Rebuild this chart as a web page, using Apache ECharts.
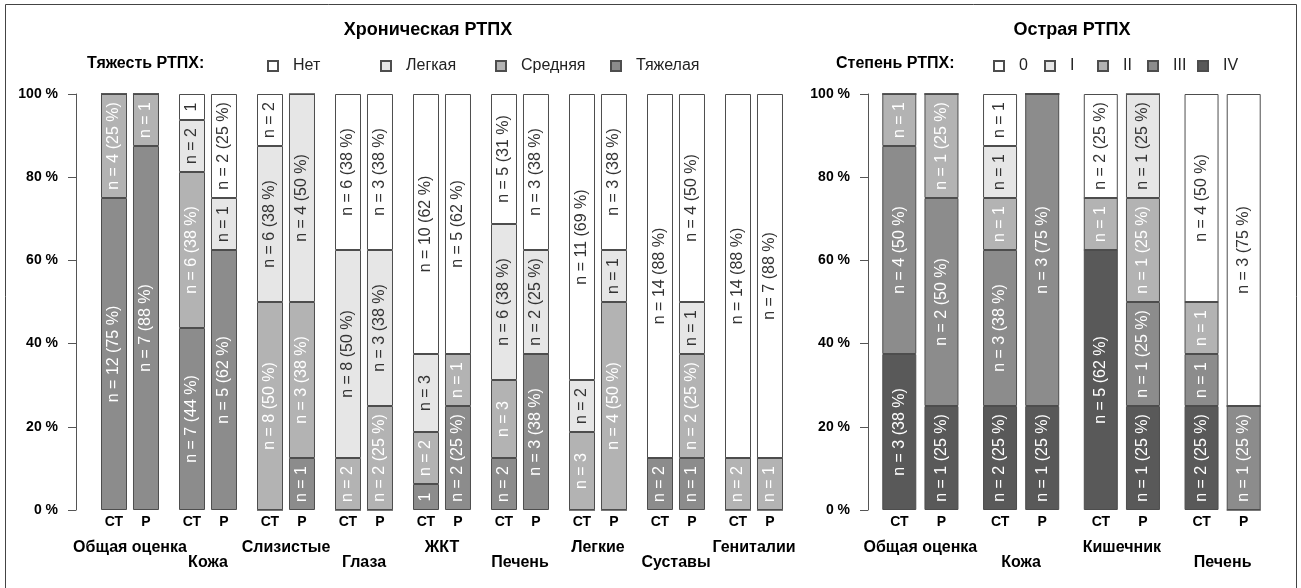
<!DOCTYPE html>
<html>
<head>
<meta charset="utf-8">
<script src="https://cdn.jsdelivr.net/npm/echarts@6/dist/echarts.min.js"></script>
<style>
  html, body { margin: 0; padding: 0; background: #fff; }
  #chart { width: 1301px; height: 588px; }
</style>
</head>
<body>
<div id="chart"></div>
<script>
// ---- data: counts of patients per category ----
const chronicGroups = ['Общая оценка', 'Кожа', 'Слизистые', 'Глаза', 'ЖКТ', 'Печень', 'Легкие', 'Суставы', 'Гениталии'];
const chronicLevels = ['Нет', 'Легкая', 'Средняя', 'Тяжелая'];

// СТ
const chrCtNone     = [0, 1, 2, 6, 10, 5, 11, 14, 14];
const chrCtMild     = [0, 2, 6, 8, 3, 6, 2, 0, 0];
const chrCtModerate = [4, 6, 8, 2, 2, 3, 3, 0, 2];
const chrCtSevere   = [12, 7, 0, 0, 1, 2, 0, 2, 0];
// Р
const chrRNone     = [0, 2, 0, 3, 5, 3, 3, 4, 7];
const chrRMild     = [0, 1, 4, 3, 0, 2, 1, 1, 0];
const chrRModerate = [1, 0, 3, 2, 1, 0, 4, 2, 1];
const chrRSevere   = [7, 5, 1, 0, 2, 3, 0, 1, 0];

const acuteGroups = ['Общая оценка', 'Кожа', 'Кишечник', 'Печень'];
const acuteLevels = ['0', 'I', 'II', 'III', 'IV'];

// СТ
const acuCt0 = [0, 1, 2, 4];
const acuCt1 = [0, 1, 0, 0];
const acuCt2 = [1, 1, 1, 1];
const acuCt3 = [4, 3, 0, 1];
const acuCt4 = [3, 2, 5, 2];
// Р
const acuR0 = [0, 0, 0, 3];
const acuR1 = [0, 0, 1, 0];
const acuR2 = [1, 0, 1, 0];
const acuR3 = [2, 3, 1, 1];
const acuR4 = [1, 1, 1, 0];

const subLabels = ['СТ', 'Р'];

// ---- styles ----
const chronicColors = ['#ffffff', '#e6e6e6', '#b3b3b3', '#8c8c8c'];
const chronicText   = ['#333333', '#333333', '#ffffff', '#ffffff'];
const acuteColors = ['#ffffff', '#e6e6e6', '#b3b3b3', '#8c8c8c', '#595959'];
const acuteText   = ['#333333', '#333333', '#ffffff', '#ffffff', '#ffffff'];
const FONT = '"Liberation Sans", Arial, sans-serif';

// R-style rounding (half to even)
function roundHalfEven(x) {
    const f = Math.floor(x);
    if (Math.abs(x - f - 0.5) < 1e-9) return f % 2 === 0 ? f : f + 1;
    return Math.round(x);
}

function labelText(n, total) {
    if (!n) return '';
    const share = n / total;
    if (share < 0.1) return String(n);
    if (share < 0.2) return 'n = ' + n;
    return 'n = ' + n + ' (' + roundHalfEven(share * 100) + ' %)';
}

function buildSeries(levels, ctRows, rRows, colors, textColors, axis, barWidth, barGap) {
    const out = [];
    [[ctRows, subLabels[0]], [rRows, subLabels[1]]].forEach(([rows, sub], s) => {
        const stack = 'g' + axis + '_' + s;
        const totals = rows[0].map((_, i) => rows.reduce((a, r) => a + r[i], 0));
        // invisible base bar carrying the СТ / Р label under the column
        out.push({
            type: 'bar', name: '_' + sub, stack, xAxisIndex: axis, yAxisIndex: axis,
            barWidth, barGap, silent: true,
            data: totals.map(() => 0),
            itemStyle: { color: 'transparent', borderWidth: 0 },
            label: {
                show: true, position: 'bottom', distance: 5, formatter: sub,
                fontFamily: FONT, fontSize: 14, fontWeight: 'bold', color: '#000'
            }
        });
        // stacked from the most severe (bottom) to none (top)
        for (let k = levels.length - 1; k >= 0; k--) {
            out.push({
                type: 'bar', name: levels[k], stack, xAxisIndex: axis, yAxisIndex: axis,
                barWidth, barGap,
                data: rows[k].map((n, i) => ({ value: n / totals[i] * 100, n: n, total: totals[i] })),
                itemStyle: { color: colors[k], borderColor: '#4d4d4d', borderWidth: 1 },
                label: {
                    show: true, position: 'inside', rotate: 90,
                    formatter: p => labelText(p.data.n, p.data.total),
                    fontFamily: FONT, fontSize: 16, color: textColors[k]
                }
            });
        }
    });
    return out;
}

const chronicSeries = buildSeries(chronicLevels,
    [chrCtNone, chrCtMild, chrCtModerate, chrCtSevere],
    [chrRNone, chrRMild, chrRModerate, chrRSevere],
    chronicColors, chronicText, 0, 26, '23%');
const acuteSeries = buildSeries(acuteLevels,
    [acuCt0, acuCt1, acuCt2, acuCt3, acuCt4],
    [acuR0, acuR1, acuR2, acuR3, acuR4],
    acuteColors, acuteText, 1, 34, '24%');

function yAxis(grid, offset) {
    return {
        type: 'value', gridIndex: grid, min: 0, max: 100, interval: 20, offset: offset,
        axisLine: { show: true, lineStyle: { color: '#555', width: 1 } },
        axisTick: { show: true, length: 8, lineStyle: { color: '#555' } },
        splitLine: { show: false },
        axisLabel: {
            formatter: '{value} %', margin: 18,
            fontFamily: FONT, fontSize: 14, fontWeight: 'bold', color: '#000'
        }
    };
}

function xAxis(grid, groups) {
    return {
        type: 'category', gridIndex: grid, data: groups,
        axisLine: { show: false }, axisTick: { show: false },
        axisLabel: {
            interval: 0, margin: 30, lineHeight: 15,
            formatter: (v, i) => (i % 2 ? '\n' + v : v),
            fontFamily: FONT, fontSize: 16, fontWeight: 'bold', color: '#000'
        }
    };
}

function legendItem(name, left) {
    return {
        data: [name], left: left, top: 58, icon: 'rect', itemWidth: 10, itemHeight: 10,
        selectedMode: false, padding: 0,
        textStyle: { fontFamily: FONT, fontSize: 16, color: '#222', padding: [0, 0, 0, 10] }
    };
}

const chart = echarts.init(document.getElementById('chart'));
chart.setOption({
    backgroundColor: '#fff',
    animation: false,
    textStyle: { fontFamily: FONT },
    title: [
        { text: 'Хроническая РТПХ', left: 428, top: 21, textAlign: 'center', padding: 0,
          textStyle: { fontFamily: FONT, fontSize: 18, fontWeight: 'bold', color: '#000' } },
        { text: 'Острая РТПХ', left: 1072, top: 21, textAlign: 'center', padding: 0,
          textStyle: { fontFamily: FONT, fontSize: 18, fontWeight: 'bold', color: '#000' } },
        { text: 'Тяжесть РТПХ:', left: 87, top: 56, padding: 0,
          textStyle: { fontFamily: FONT, fontSize: 16, fontWeight: 'bold', color: '#000' } },
        { text: 'Степень РТПХ:', left: 836, top: 56, padding: 0,
          textStyle: { fontFamily: FONT, fontSize: 16, fontWeight: 'bold', color: '#000' } }
    ],
    legend: [
        legendItem('Нет', 267), legendItem('Легкая', 380),
        legendItem('Средняя', 495), legendItem('Тяжелая', 610),
        legendItem('0', 993), legendItem('I', 1044), legendItem('II', 1097),
        legendItem('III', 1147), legendItem('IV', 1197)
    ],
    grid: [
        { left: 91, width: 702, top: 94, height: 416 },
        { left: 870, width: 403, top: 94, height: 416 }
    ],
    xAxis: [xAxis(0, chronicGroups), xAxis(1, acuteGroups)],
    yAxis: [yAxis(0, 15), yAxis(1, 2)],
    series: chronicSeries.concat(acuteSeries),
    graphic: [{
        type: 'rect', silent: true, z: 100,
        shape: { x: 5.5, y: 4.5, width: 1291, height: 600 },
        style: { fill: 'none', stroke: '#444', lineWidth: 1 }
    }]
});
window.addEventListener('resize', () => chart.resize());
</script>
</body>
</html>
